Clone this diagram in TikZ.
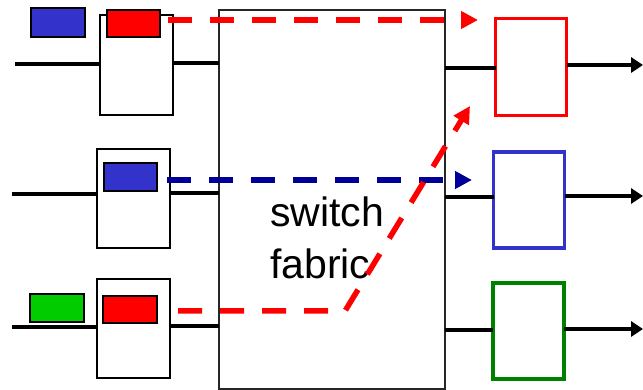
\documentclass[tikz,border=0pt]{standalone}
\usepackage{fontspec}
\setmainfont{Liberation Sans}
\usetikzlibrary{arrows.meta}
\definecolor{pblue}{HTML}{3333CC}
\definecolor{pred}{HTML}{FF0000}
\definecolor{pgreen}{HTML}{00CC00}
\definecolor{dblue}{HTML}{000099}
\definecolor{ogreen}{HTML}{008000}
\tikzset{
  inbox/.style={draw=black, line width=2pt, fill=white, minimum width=73pt, minimum height=99pt, inner sep=0pt, outer sep=0pt},
  pkt/.style={draw=black, line width=2pt, minimum width=53pt, minimum height=27pt, inner sep=0pt, outer sep=0pt},
  outbox/.style={line width=3.5pt, fill=white, minimum width=71pt, minimum height=96pt, inner sep=0pt, outer sep=0pt},
  wire/.style={line width=4pt, black},
  owire/.style={line width=4pt, black, -{Triangle[length=12pt,width=15pt]}},
  flow/.style={line width=5.5pt, dash pattern=on 24pt off 18pt, -{Triangle[length=17pt,width=17pt]}},
  lbl/.style={font=\fontsize{41pt}{52pt}\selectfont, anchor=base west, inner sep=0pt}
}
\begin{document}
\begin{tikzpicture}[x=1pt,y=-1pt]
\useasboundingbox (0,0) rectangle (643,390);
% switch fabric
\node[draw=black!85, line width=1.5pt, minimum width=226pt, minimum height=379pt, inner sep=0pt, outer sep=0pt] (fab) at (332,199.5) {};
\node[lbl] (t1) at (270,227) {switch};
\node[lbl] (t2) at (270,279) {fabric};
% input ports
\node[inbox, minimum height=100pt] (in1) at (136.5,65) {};
\node[inbox] (in2) at (133.5,198.5) {};
\node[inbox] (in3) at (133.5,328.5) {};
% packets
\node[pkt, fill=pred] (p1) at (133.5,23.5) {};
\node[pkt, fill=pblue, minimum width=54pt, minimum height=29pt] (q1) at (58,22.5) {};
\node[pkt, fill=pblue, minimum height=28pt] (p2) at (130.5,177) {};
\node[pkt, fill=pred, minimum width=54pt] (p3) at (130,309.5) {};
\node[pkt, fill=pgreen, minimum width=54pt, minimum height=28pt] (q3) at (57,308) {};
% output ports
\node[outbox, draw=pred, minimum height=97pt] (o1) at (531,67) {};
\node[outbox, draw=pblue] (o2) at (529,200) {};
\node[outbox, draw=ogreen] (o3) at (528.5,331) {};
% line coordinates
\coordinate (l1) at (15,64);
\coordinate (l2) at (12,194);
\coordinate (l3) at (12,327);
\coordinate (e1) at (643,65);
\coordinate (e2) at (643,196);
\coordinate (e3) at (643,329);
% input wires
\draw[wire] (l1) -- (l1 -| in1.west);
\draw[wire] (l2) -- (l2 -| in2.west);
\draw[wire] (l3) -- (l3 -| in3.west);
\draw[wire] (in1.east |- 0,63) -- (fab.west |- 0,63);
\draw[wire] (in2.east |- 0,193) -- (fab.west |- 0,193);
\draw[wire] (in3.east |- 0,326) -- (fab.west |- 0,326);
% fabric to outputs
\draw[wire] (fab.east |- 0,68) -- (o1.west |- 0,68);
\draw[wire] (fab.east |- 0,197) -- (o2.west |- 0,197);
\draw[wire] (fab.east |- 0,330) -- (o3.west |- 0,330);
% output arrows
\draw[owire] (e1 -| o1.east) -- (e1);
\draw[owire] (e2 -| o2.east) -- (e2);
\draw[owire] (e3 -| o3.east) -- (e3);
% flows
\coordinate (r1s) at (168,20);
\coordinate (r1e) at (478,20);
\coordinate (b2s) at (167,180);
\coordinate (b2e) at (472,180);
\coordinate (r3s) at (178,311);
\coordinate (r3c) at (345,311);
\coordinate (r3e) at (470,106);
\draw[flow, pred] (r1s) -- (r1e);
\draw[flow, dblue] (b2s) -- (b2e);
\draw[flow, pred] (r3s) -- (r3c) -- (r3e);
\end{tikzpicture}
\end{document}
